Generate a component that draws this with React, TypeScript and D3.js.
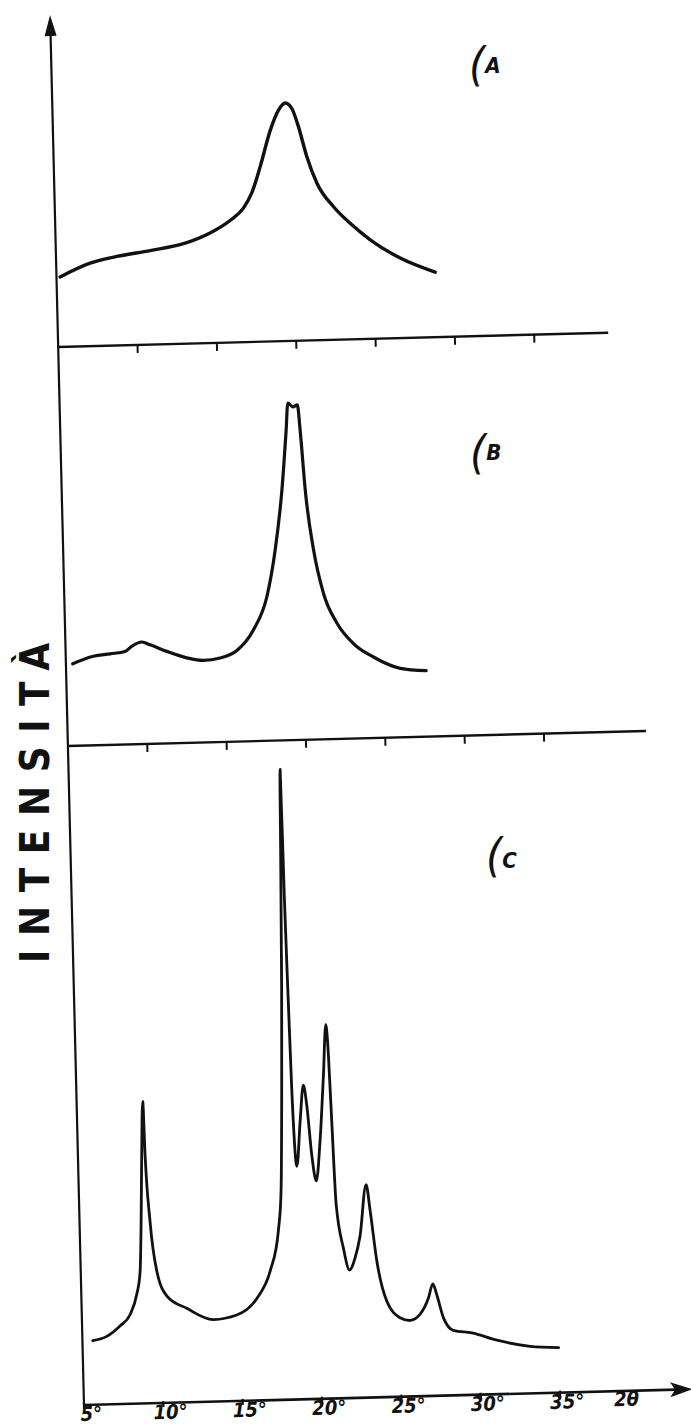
import * as d3 from "d3";

// diffraction angle (2θ, degrees) and intensity (a.u.)
const angleA = [5.23, 7.14, 8.83, 10.94, 13.05, 14.74, 16.02, 16.88, 17.43, 18.0, 18.69, 19.24, 19.68, 20.09, 20.47, 20.95, 21.55, 22.56, 23.58, 24.82, 26.68, 28.86];
const intensityA = [70, 83, 89, 94, 100, 110, 122, 134, 149, 175, 211, 231, 238, 232, 214, 184, 157, 133, 116, 99, 80, 65];

const angleB = [5.43, 6.74, 7.8, 8.74, 9.17, 9.81, 10.33, 11.37, 12.62, 13.66, 14.72, 15.79, 16.86, 17.76, 18.35, 18.87, 19.23, 19.38, 19.69, 19.98, 20.11, 20.34, 20.77, 21.33, 22.13, 23.14, 24.38, 26.05, 27.68];
const intensityB = [82, 89, 91, 93, 98, 102, 99, 92, 85, 82, 84, 91, 111, 144, 190, 250, 310, 337, 333, 335, 310, 250, 190, 146, 116, 95, 81, 69, 66];

const angleC = [5.65, 6.54, 7.39, 8.04, 8.49, 8.74, 8.88, 9.02, 9.17, 9.23, 9.44, 9.79, 10.38, 11.62, 13.28, 14.76, 16.05, 16.93, 17.51, 17.75, 17.94, 18.09, 18.24, 18.33, 18.4, 18.49, 18.57, 18.77, 19.05, 19.31, 19.49, 19.73, 19.97, 20.27, 20.59, 20.82, 20.93, 21.04, 21.19, 21.58, 21.93, 22.3, 22.65, 23.11, 23.32, 23.66, 24.23, 25.04, 25.67, 26.31, 26.86, 27.16, 27.39, 27.77, 28.38, 29.54, 31.11, 33.19, 34.98];
const intensityC = [64, 68, 78, 89, 109, 132, 182, 249, 302, 249, 182, 132, 107, 94, 82, 86, 102, 129, 169, 212, 312, 412, 552, 630, 500, 395, 311, 233, 278, 314, 294, 244, 218, 257, 324, 374, 344, 277, 194, 150, 128, 140, 162, 213, 187, 137, 96, 79, 76, 82, 98, 112, 101, 78, 65, 62, 54, 47, 45];

const panelTicks = [10, 15, 20, 25, 30, 35];
const axisTicks = [5, 10, 15, 20, 25, 30, 35];
const axisTitle = "INTENSITÀ";
const xTitle = "2θ";

const width = 691;
const height = 1427;
// the scanned figure is slightly sheared: x axis rises, y axis leans
const origin = { x: 84, y: 1405 };
const shear = { x: 0.0244, y: -0.026 };

const xScale = d3.scaleLinear().domain([5, 35]).range([0, 476]);
const yScale = d3.scaleLinear().domain([0, 700]).range([0, -700]);

const panels = [
  { label: "A", angles: angleA, values: intensityA, base: -1058, end: 550, lx: 469, ly: 80, dy: -7, sw: 3.4 },
  { label: "B", angles: angleB, values: intensityB, base: -659, end: 578, lx: 470, ly: 468, dy: -8, sw: 3.2 },
  { label: "C", angles: angleC, values: intensityC, base: 0, end: 606, lx: 486, ly: 871, dy: -3, sw: 2.8 },
];

const handFont = "'DejaVu Sans Condensed', 'DejaVu Sans', sans-serif";

export default function App() {
  return (
    <svg
      width={width}
      height={height}
      style={{ position: "absolute", left: 0, top: 0, background: "#fff" }}
    >
      <g transform={`matrix(1, ${shear.y}, ${shear.x}, 1, ${origin.x}, ${origin.y})`}>
        {/* y axis with arrow */}
        <line x1={0} y1={0} x2={0} y2={-1373} stroke="#111" strokeWidth={2.2} />
        <path d="M0,-1390 L-6,-1369 L6,-1369 Z" fill="#111" />

        {/* bottom axis with arrow */}
        <line x1={0} y1={0} x2={592} y2={0} stroke="#111" strokeWidth={2.6} />
        <path d="M606,0 L588,-6 L592,0 L588,6 Z" fill="#111" stroke="#111" strokeWidth={1.5} />
        {axisTicks.map((t) => (
          <line key={t} x1={xScale(t)} x2={xScale(t)} y1={-2} y2={4} stroke="#111" strokeWidth={2.2} />
        ))}
        {axisTicks.map((t) => (
          <text
            key={"l" + t}
            x={xScale(t) + 7}
            y={16}
            textAnchor="middle"
            fontFamily={handFont}
            fontStyle="italic"
            fontWeight="bold"
            fontSize={20}
            fill="#111"
          >
            {t}°
          </text>
        ))}
        <text x={530} y={15} fontFamily={handFont} fontStyle="italic" fontWeight="bold" fontSize={20} fill="#111">
          {xTitle}
        </text>

        {panels.map((p) => {
          const line = d3
            .line<number>()
            .x((d, i) => xScale(p.angles[i]))
            .y((d) => p.base + yScale(d))
            .curve(d3.curveMonotoneX);
          return (
            <g key={p.label}>
              {p.base !== 0 && (
                <g>
                  <line x1={0} y1={p.base} x2={p.end} y2={p.base} stroke="#111" strokeWidth={2.4} />
                  {panelTicks.map((t) => (
                    <line
                      key={t}
                      x1={xScale(t)}
                      x2={xScale(t)}
                      y1={p.base}
                      y2={p.base + 8}
                      stroke="#111"
                      strokeWidth={2}
                    />
                  ))}
                </g>
              )}
              <path
                d={line(p.values) || ""}
                fill="none"
                stroke="#111"
                strokeWidth={p.sw}
                strokeLinejoin="round"
                strokeLinecap="round"
              />
            </g>
          );
        })}
      </g>

      {panels.map((p) => (
        <text key={"t" + p.label} x={p.lx} y={p.ly} fontFamily={handFont} fontStyle="italic" fill="#111">
          <tspan fontSize={46}>(</tspan>
          <tspan fontSize={22} fontWeight="bold" dy={p.dy}>
            {p.label}
          </tspan>
        </text>
      ))}

      <text
        transform="translate(49,803) rotate(-90)"
        textAnchor="middle"
        fontFamily={handFont}
        fontWeight="bold"
        fontSize={40}
        textLength={320}
        lengthAdjust="spacing"
        fill="#111"
      >
        {axisTitle}
      </text>
    </svg>
  );
}
